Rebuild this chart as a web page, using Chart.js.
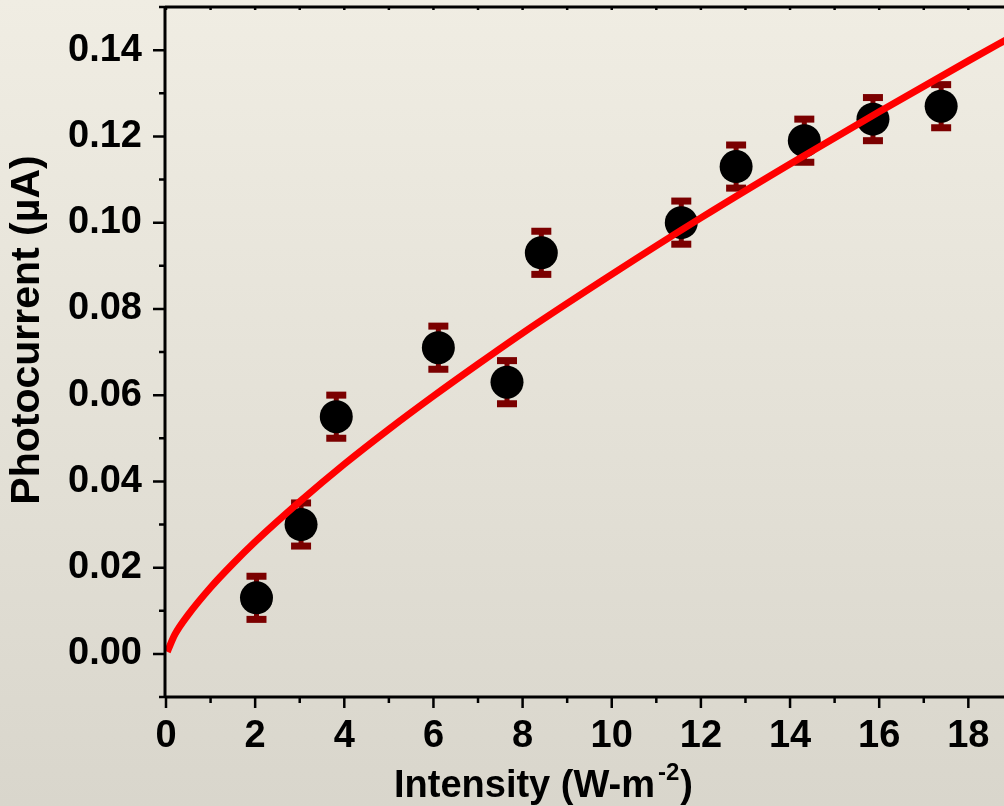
<!DOCTYPE html>
<html lang="en">
<head>
    <meta charset="UTF-8">
    <script src="https://cdn.jsdelivr.net/npm/chart.js"></script>
    <title>Photocurrent vs Intensity</title>
    <style>
        body { margin: 0; background: #e6e3d9; }
        canvas { display: block; }
    </style>
</head>
<body>
    <canvas id="photoChart" width="1004" height="806"></canvas>

    <script>
        // Measured points with error bars
        const intensity = [2.03, 3.03, 3.82, 6.11, 7.65, 8.42, 11.56, 12.79, 14.32, 15.86, 17.39];
        const photocurrent = [0.013, 0.030, 0.055, 0.071, 0.063, 0.093, 0.100, 0.113, 0.119, 0.124, 0.127];
        const errors = [0.005, 0.005, 0.005, 0.005, 0.005, 0.005, 0.005, 0.005, 0.005, 0.005, 0.005];

        // Fitted curve
        const fitX = [0.03, 0.2, 0.5, 1, 1.5, 2, 3, 4, 5, 6, 7, 8, 10, 12, 14, 16, 18, 19];
        const fitY = [0.0005, 0.0045, 0.0091, 0.0154, 0.0209, 0.026, 0.0353, 0.044, 0.0521, 0.0598,
                      0.0672, 0.0744, 0.088, 0.1011, 0.1136, 0.1257, 0.1375, 0.1433];

        const FONT = '"Liberation Sans", Arial, sans-serif';

        const canvas = document.getElementById('photoChart');
        const ctx = canvas.getContext('2d');

        // background gradient + axes, ticks, error bars, titles
        const decor = {
          id: 'decor',
          beforeDraw(chart) {
            const c = chart.ctx;
            const g = c.createLinearGradient(0, 0, 0, chart.height);
            g.addColorStop(0, '#f0ede3');
            g.addColorStop(1, '#d9d6cc');
            c.save();
            c.fillStyle = g;
            c.fillRect(0, 0, chart.width, chart.height);
            c.restore();
          },
          beforeDatasetsDraw(chart) {
            const c = chart.ctx;
            const xs = chart.scales.x, ys = chart.scales.y;
            c.save();
            c.fillStyle = '#7b0000';
            intensity.forEach((x, i) => {
              const px = xs.getPixelForValue(x);
              const top = ys.getPixelForValue(photocurrent[i] + errors[i]);
              const bot = ys.getPixelForValue(photocurrent[i] - errors[i]);
              c.fillRect(px - 2.5, top, 5, bot - top);
              c.fillRect(px - 10, top - 3.5, 20, 7);
              c.fillRect(px - 10, bot - 3.5, 20, 7);
            });
            c.restore();
          },
          afterDraw(chart) {
            const c = chart.ctx;
            const a = chart.chartArea;
            const xs = chart.scales.x, ys = chart.scales.y;
            const left = a.left - 1, bottom = a.bottom, top = a.top;
            c.save();
            c.strokeStyle = '#000';
            c.lineWidth = 3;
            c.beginPath();
            c.moveTo(left, bottom); c.lineTo(left, top);
            c.moveTo(left, bottom); c.lineTo(a.right, bottom);
            c.moveTo(left, top); c.lineTo(a.right, top);
            c.stroke();

            // y ticks
            c.lineWidth = 2.5;
            c.beginPath();
            ys.ticks.forEach(t => {
              const py = ys.getPixelForValue(t.value);
              const major = Math.round(t.value * 100) % 2 === 0;
              c.moveTo(left, py); c.lineTo(left - (major ? 12 : 6), py);
            });
            // x ticks, bottom out, top in
            xs.ticks.forEach(t => {
              const px = xs.getPixelForValue(t.value);
              const major = Math.round(t.value) % 2 === 0;
              c.moveTo(px, bottom); c.lineTo(px, bottom + (major ? 11 : 6));
              c.moveTo(px, top); c.lineTo(px, top + 3);
            });
            c.stroke();

            // axis titles
            c.fillStyle = '#000';
            c.font = 'bold 41px ' + FONT;
            c.textAlign = 'center';
            c.textBaseline = 'middle';
            c.translate(28, 330);
            c.rotate(-Math.PI / 2);
            c.fillText('Photocurrent (\u00b5A)', 0, 0);
            c.setTransform(1, 0, 0, 1, 0, 0);

            c.textAlign = 'left';
            c.textBaseline = 'alphabetic';
            c.font = 'bold 38px ' + FONT;
            const main = 'Intensity (W-m';
            let x0 = 394;
            c.fillText(main, x0, 797);
            x0 += c.measureText(main).width + 3;
            c.font = 'bold 24px ' + FONT;
            c.fillText('-2', x0, 780);
            x0 += c.measureText('-2').width + 1;
            c.font = 'bold 38px ' + FONT;
            c.fillText(')', x0, 797);
            c.restore();
          }
        };

        const photoChart = new Chart(ctx, {
          type: 'scatter',
          data: {
            datasets: [
              {
                label: 'Fit',
                type: 'line',
                data: fitX.map((x, i) => ({ x: x, y: fitY[i] })),
                borderColor: '#ff0000',
                borderWidth: 7,
                pointRadius: 0,
                cubicInterpolationMode: 'monotone',
                fill: false,
                order: 0,
              },
              {
                label: 'Photocurrent',
                data: intensity.map((x, i) => ({ x: x, y: photocurrent[i] })),
                backgroundColor: '#000',
                borderWidth: 0,
                pointRadius: 16.5,
                pointHoverRadius: 16.5,
                order: 1,
              },
            ],
          },
          options: {
            responsive: false,
            animation: false,
            devicePixelRatio: 1,
            layout: { autoPadding: false, padding: { top: 7, right: 0, left: 0, bottom: 0 } },
            plugins: {
              legend: { display: false },
              tooltip: { enabled: false },
            },
            scales: {
              x: {
                type: 'linear',
                min: 0,
                max: 18.8,
                grid: { display: false, drawTicks: false },
                border: { display: false },
                ticks: {
                  stepSize: 1,
                  includeBounds: false,
                  autoSkip: false,
                  maxRotation: 0,
                  padding: 17,
                  color: '#000',
                  font: { family: FONT, size: 38, weight: 'bold' },
                  callback: (v) => (Math.round(v) % 2 === 0 ? String(v) : ''),
                },
                afterFit: (s) => { s.height = 109; s.paddingLeft = 0; s.paddingRight = 0; },
              },
              y: {
                type: 'linear',
                min: -0.01,
                max: 0.15,
                grid: { display: false, drawTicks: false },
                border: { display: false },
                ticks: {
                  stepSize: 0.01,
                  includeBounds: false,
                  autoSkip: false,
                  padding: 24,
                  color: '#000',
                  font: { family: FONT, size: 38, weight: 'bold' },
                  callback: (v) => {
                    const k = Math.round(v * 100);
                    return (k >= 0 && k % 2 === 0) ? (k / 100).toFixed(2) : '';
                  },
                },
                afterFit: (s) => { s.width = 166; s.paddingTop = 0; s.paddingBottom = 0; },
              },
            },
          },
          plugins: [decor],
        });
    </script>
</body>
</html>
